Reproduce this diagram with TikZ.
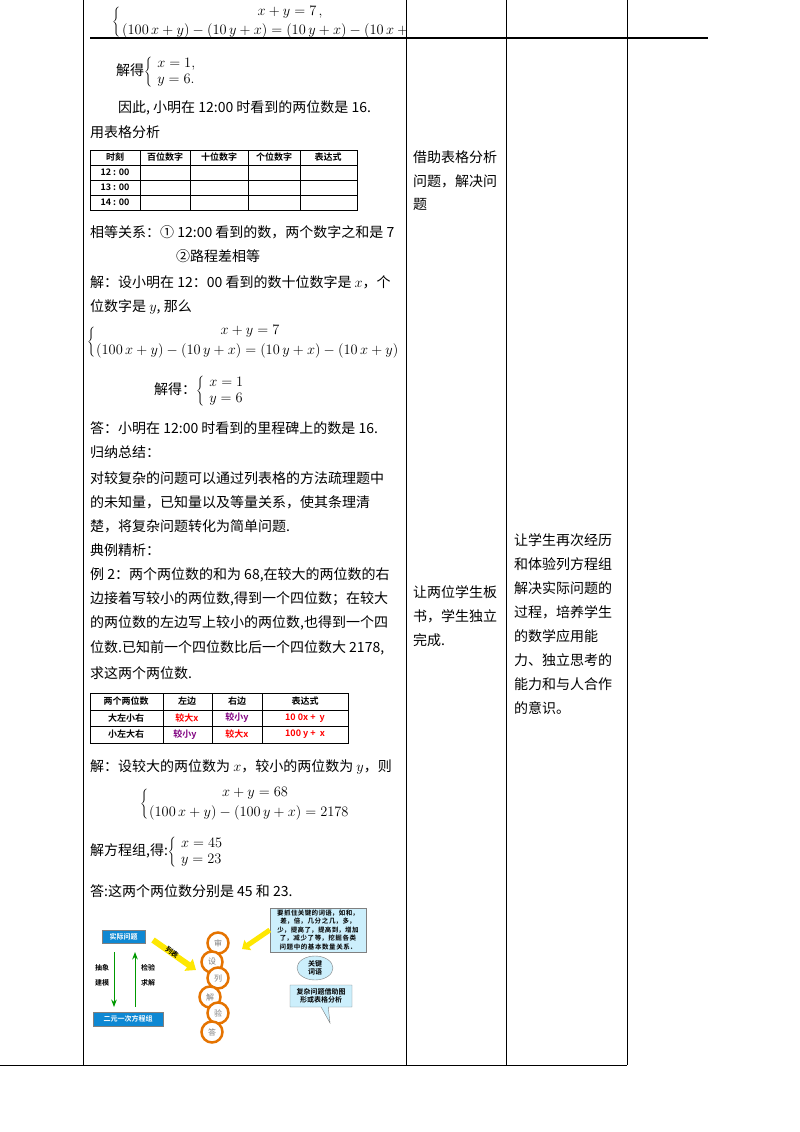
\documentclass[tikz,border=0pt]{standalone}
\usepackage{fontspec}
\newfontfamily\cjk{Noto Sans CJK SC}
\newfontfamily\cjkb{Noto Sans CJK SC Bold}
\XeTeXlinebreaklocale "zh"
\XeTeXlinebreakskip=0pt plus 1pt
\usetikzlibrary{shapes.geometric,shapes.callouts,arrows.meta}
\begin{document}
\begin{tikzpicture}[x=1pt,y=-1pt,
  tx/.style={anchor=west,inner sep=0pt,font=\fontsize{14}{16}\selectfont\cjk},
  br/.style={anchor=west,inner sep=0pt,font=\fontsize{14}{16}\selectfont},
  tb/.style={font=\fontsize{9}{10}\selectfont\cjkb,inner sep=0pt},
  frame/.style={line width=0.8pt},
  circ/.style={circle,draw=orange!90!black,line width=2.5pt,fill=white,minimum size=21pt,inner sep=0pt,font=\fontsize{8}{9}\selectfont\cjk,text=gray},
  fig/.style={font=\fontsize{7}{8}\selectfont\cjkb,inner sep=1pt},
  blu/.style={fill=cyan!70!blue,draw=gray,text=white,font=\fontsize{7}{8}\selectfont\cjkb}]
\useasboundingbox (0,0) rectangle (800,1132);
% frame
\draw[frame] (83,0)--(83,1065) (406,0)--(406,1065) (506,0)--(506,1065) (627,0)--(627,1065);
\draw[frame] (0,1065)--(627,1065);
\draw[line width=1.2pt] (90,38)--(708,38);
% top equations
\node[br] (t1) at (112,21) {$\left\{\vphantom{\rule{0pt}{20pt}}\right.$};
\node (e1) at (290,12) {\fontsize{14}{16}\selectfont $x+y=7$\,,};
\begin{scope}
\clip (90,20) rectangle (406,45);
\node[anchor=west,inner sep=0pt] (e2) at (122,31) {\fontsize{14}{16}\selectfont $(100\,x+y)-(10\,y+x)=(10\,y+x)-(10\,x+y)$};
\end{scope}
\node[tx] (s1) at (116,72) {解得$\left\{\begin{array}{l}x=1,\\ y=6.\end{array}\right.$};
\node[tx] (l1) at (118,108) {因此, 小明在 12:00 时看到的两位数是 16.};
\node[tx] (l2) at (90,132) {用表格分析};
% table 1
\draw (90,150) rectangle (357,210);
\foreach \y in {165,180,195} \draw (90,\y)--(357,\y);
\foreach \x in {140,190,248,300} \draw (\x,150)--(\x,210);
\node[tb] (h1) at (115,157.5) {时刻};
\node[tb] (h2) at (165,157.5) {百位数字};
\node[tb] (h3) at (219,157.5) {十位数字};
\node[tb] (h4) at (274,157.5) {个位数字};
\node[tb] (h5) at (328,157.5) {表达式};
\node[tb] (r1) at (115,172.5) {12 : 00};
\node[tb] (r2) at (115,187.5) {13 : 00};
\node[tb] (r3) at (115,202.5) {14 : 00};
\node[tx] (l3) at (90,232) {相等关系：① 12:00 看到的数，两个数字之和是 7};
\node[tx] (l4) at (176,256) {②路程差相等};
\node[tx] (l5) at (90,282) {解：设小明在 12：00 看到的数十位数字是 $x$，个};
\node[tx] (l6) at (90,307) {位数字是 $y$, 那么};
\node[br] (b2) at (87,341) {$\left\{\vphantom{\rule{0pt}{20pt}}\right.$};
\node (e3) at (250,331) {\fontsize{14}{16}\selectfont $x+y=7$};
\node[anchor=west,inner sep=0pt] (e4) at (96,351) {\fontsize{14}{16}\selectfont $(100\,x+y)-(10\,y+x)=(10\,y+x)-(10\,x+y)$};
\node[tx] (s2) at (154,391) {解得：$\left\{\begin{array}{l}x=1\\ y=6\end{array}\right.$};
\node[tx] (l7) at (90,428) {答：小明在 12:00 时看到的里程碑上的数是 16.};
\node[tx] (l8) at (90,452) {归纳总结：};
\node[tx] (l9) at (90,478) {对较复杂的问题可以通过列表格的方法疏理题中};
\node[tx] (l10) at (90,502) {的未知量，已知量以及等量关系，使其条理清};
\node[tx] (l11) at (90,526) {楚，将复杂问题转化为简单问题.};
\node[tx] (l12) at (90,550) {典例精析：};
\node[tx] (l13) at (90,575) {例 2：两个两位数的和为 68,在较大的两位数的右};
\node[tx] (l14) at (90,599) {边接着写较小的两位数,得到一个四位数；在较大};
\node[tx] (l15) at (90,623) {的两位数的左边写上较小的两位数,也得到一个四};
\node[tx] (l16) at (90,648) {位数.已知前一个四位数比后一个四位数大 2178,};
\node[tx] (l17) at (90,673) {求这两个两位数.};
% table 2
\draw (90,693) rectangle (348,743);
\foreach \y in {710,726} \draw (90,\y)--(348,\y);
\foreach \x in {163,212,262} \draw (\x,693)--(\x,743);
\node[tb] (g1) at (126,701.5) {两个两位数};
\node[tb] (g2) at (187,701.5) {左边};
\node[tb] (g3) at (237,701.5) {右边};
\node[tb] (g4) at (305,701.5) {表达式};
\node[tb] (g5) at (126,718) {大左小右};
\node[tb] (g6) at (126,734.5) {小左大右};
\node[tb,text=red] (g7) at (187,718) {较大x};
\node[tb,text=violet] (g8) at (237,718) {较小y};
\node[tb,text=red] (g9) at (305,718) {10 0\textit{x} + \ \textit{y}};
\node[tb,text=violet] (g10) at (185,734.5) {较小y};
\node[tb,text=red] (g11) at (237,734.5) {较大x};
\node[tb,text=red] (g12) at (305,734.5) {100 \textit{y} + \ \textit{x}};
\node[tx] (l18) at (90,767) {解：设较大的两位数为 $x$，较小的两位数为 $y$，则};
\node[br] (b3) at (140,803) {$\left\{\vphantom{\rule{0pt}{20pt}}\right.$};
\node (e5) at (255,793) {\fontsize{14}{16}\selectfont $x+y=68$};
\node[anchor=west,inner sep=0pt] (e6) at (149,813) {\fontsize{14}{16}\selectfont $(100\,x+y)-(100\,y+x)=2178$};
\node[tx] (s3) at (90,852) {解方程组,得:$\left\{\begin{array}{l}x=45\\ y=23\end{array}\right.$};
\node[tx] (l19) at (90,891) {答:这两个两位数分别是 45 和 23.};
% middle column
\node[tx] (m1) at (413,157) {借助表格分析};
\node[tx] (m2) at (413,181) {问题，解决问};
\node[tx] (m3) at (413,204) {题};
\node[tx] (m4) at (413,592) {让两位学生板};
\node[tx] (m5) at (413,616) {书，学生独立};
\node[tx] (m6) at (413,640) {完成.};
% right column
\foreach \t [count=\i] in {让学生再次经历,和体验列方程组,解决实际问题的,过程，培养学生,的数学应用能,力、独立思考的,能力和与人合作,的意识。}
  \node[tx] at (514,516+24*\i) {\t};
% figure
\node[blu,minimum width=43pt,minimum height=13pt] (f1) at (123.5,936.5) {实际问题};
\node[blu,minimum width=70pt,minimum height=14pt] (f2) at (128,1019) {二元一次方程组};
\draw[-{Stealth},green!60!black,line width=1pt] (114,952)--(114,1007);
\draw[-{Stealth},green!60!black,line width=1pt] (135,1007)--(135,952);
\node[fig] (a1) at (102,968) {抽象};
\node[fig] (a2) at (102,983) {建模};
\node[fig] (a3) at (148,968) {检验};
\node[fig] (a4) at (148,983) {求解};
\coordinate (ya) at (153,940);
\coordinate (yb) at (196,970);
\draw[-{Triangle[length=9pt,width=14pt]},yellow!90!orange,line width=6pt] (ya)--(yb);
\node[fig,rotate=-35] (ylab) at (172,952) {列表};
\foreach \y/\x/\t [count=\i] in {943/218/审,962/212/设,978/218/列,997/210/解,1013/218/验,1032/212/答}
  \node[circ] (c\i) at (\x,\y) {\t};
\node[fill=cyan!20,draw=gray,text width=92pt,align=center,inner sep=2pt,font=\fontsize{6.5}{8.5}\selectfont\cjkb] (kb) at (318,930) {要抓住关键的词语，如和，差，倍，几分之几，多，少，提高了，提高到，增加了，减少了等，挖掘各类问题中的基本数量关系．};
\draw[-{Triangle[length=7pt,width=12pt]},yellow!90!orange,line width=5pt] (kb.west)--(242,949);
\node[ellipse,fill=cyan!20,draw=gray,fig,align=center,minimum width=36pt,minimum height=24pt] (kw) at (315,968) {关键\\词语};
\node[rectangle callout,fill=cyan!20,draw=gray,fig,align=center,minimum width=62pt,minimum height=22pt,callout absolute pointer={(330,1023)}] (cb) at (321,996) {复杂问题借助图\\形或表格分析};
\end{tikzpicture}
\end{document}
